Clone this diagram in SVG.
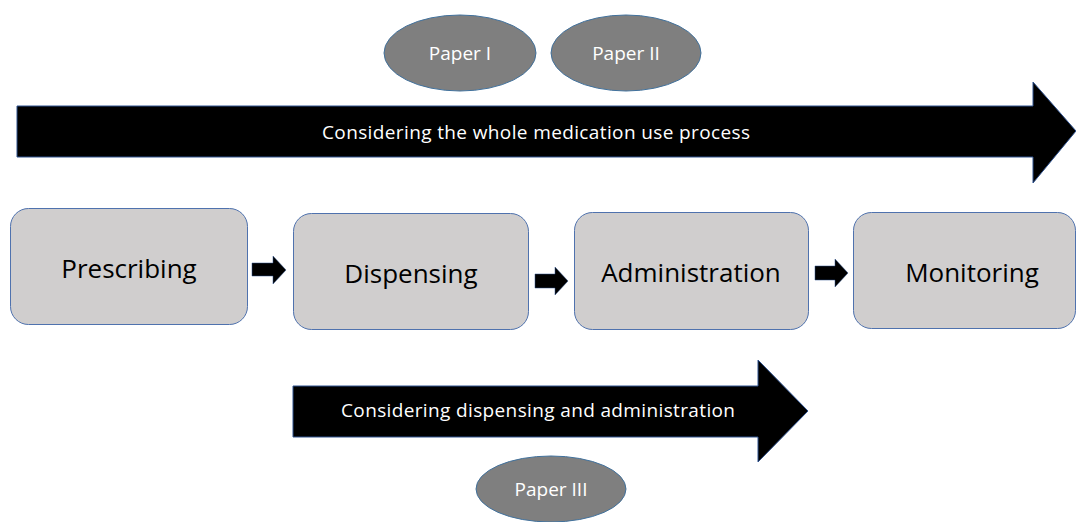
<svg xmlns="http://www.w3.org/2000/svg" width="1076" height="522" viewBox="0 0 1076 522">
<style>
.box{fill:#D0CECE;stroke:#4F72AE;stroke-width:1}
.ell{fill:#7F7F7F;stroke:#41719C;stroke-width:1}
.big{fill:#000;stroke:#2F528F;stroke-width:1}
.sm{fill:#000;stroke:#2F528F;stroke-width:0.5}
.bt{font-family:"Open Sans","Liberation Sans",sans-serif;font-size:26px;fill:#000;text-anchor:middle}
.wt{font-family:"Open Sans","Liberation Sans",sans-serif;font-size:19px;fill:#fff;text-anchor:middle}
</style>
<rect width="1076" height="522" fill="#fff"/>
<g id="arrow-whole">
<path class="big" d="M17,106 H1033 V82 L1076,131 L1033,183 V157 H17 Z"/>
<text class="wt" x="536" y="139" textLength="428" lengthAdjust="spacing">Considering the whole medication use process</text>
</g>
<g id="paper1"><ellipse class="ell" cx="460" cy="53" rx="76" ry="38"/><text class="wt" x="460" y="60">Paper I</text></g>
<g id="paper2"><ellipse class="ell" cx="626" cy="53" rx="75" ry="38"/><text class="wt" x="626" y="60">Paper II</text></g>
<g id="prescribing"><rect class="box" x="10.5" y="208.5" width="237" height="116" rx="18"/><text class="bt" x="129" y="278">Prescribing</text></g>
<g id="dispensing"><rect class="box" x="293.5" y="213.5" width="235" height="116" rx="18"/><text class="bt" x="411" y="283">Dispensing</text></g>
<g id="administration"><rect class="box" x="574.5" y="212.5" width="234" height="117" rx="18"/><text class="bt" x="691" y="282">Administration</text></g>
<g id="monitoring"><rect class="box" x="853.5" y="212.5" width="222" height="116" rx="18"/><text class="bt" x="972" y="282">Monitoring</text></g>
<g id="connectors">
<path class="sm" d="M252,263 H273 V256 L286,270 L273,284 V276 H252 Z"/>
<path class="sm" d="M535,274 H555 V267 L568,281 L555,295 V288 H535 Z"/>
<path class="sm" d="M815,266 H835 V259 L848,273 L835,287 V280 H815 Z"/>
</g>
<g id="arrow-disp-admin">
<path class="big" d="M293,386 H758 V360 L808,411 L758,462 V437 H293 Z"/>
<text class="wt" x="538" y="417" textLength="394" lengthAdjust="spacing">Considering dispensing and administration</text>
</g>
<g id="paper3"><ellipse class="ell" cx="551" cy="489" rx="75" ry="33"/><text class="wt" x="551" y="496">Paper III</text></g>
</svg>
